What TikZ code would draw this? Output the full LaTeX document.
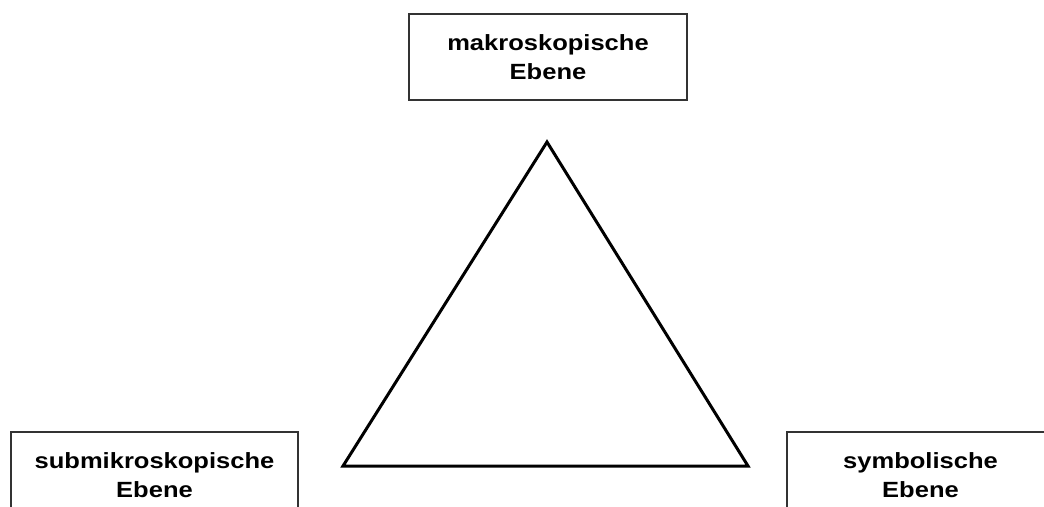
\documentclass[tikz,border=0pt]{standalone}
\usepackage{fontspec}
\setmainfont{Liberation Sans}[FakeStretch=1.16]
\usepackage{tikz}

\begin{document}
\begin{tikzpicture}[
    x=1pt, y=-1pt,
    all/.style={align=center, inner sep=0pt,
        font=\fontsize{22}{29.4}\selectfont\bfseries},
    ebene/.style={all, rectangle, draw=black!80, line width=1.2pt,
        minimum height=86pt},
    tri/.style={line width=3pt, line join=miter},
]
    \useasboundingbox (0,0) rectangle (1044,506);
    \clip (0,0) rectangle (1044,506);

    \node [ebene, minimum width=278pt] (makro) at (548,57)
        {makroskopische\\Ebene};
    \node [ebene, minimum width=287pt] (submikro) at (154.5,475)
        {submikroskopische\\Ebene};
    \node [ebene, minimum width=267pt] (symbol) at (920.5,475)
        {symbolische\\Ebene};

    \coordinate (top) at (547,142);
    \coordinate (left) at (343,466);
    \coordinate (right) at (748,466);
    \draw [tri] (top) -- (left) -- (right) -- cycle;
\end{tikzpicture}
\end{document}
